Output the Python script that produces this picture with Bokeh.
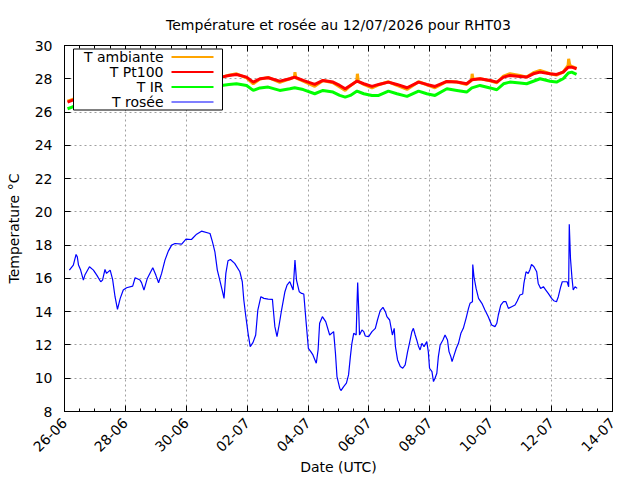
import numpy as np
import pandas as pd
from bokeh.plotting import figure
from bokeh.models import (FixedTicker, DatetimeTickFormatter, Range1d, Label,
                          BoxAnnotation, DatetimeAxis, LinearAxis, Title, CustomLabelingPolicy)
from bokeh.embed import file_html
from bokeh.resources import INLINE

# ---------------- data ----------------
start_date = "2026-06-26 00:00"
end_date = "2026-07-14 00:00"
title_text = "Température et rosée au 12/07/2026 pour RHT03"
series_names = ["T ambiante", "T Pt100", "T IR", "T rosée"]
series_colors = ["#ffa500", "#ff0000", "#00ff00", "#0000ff"]
y_ticks = [8, 10, 12, 14, 16, 18, 20, 22, 24, 26, 28, 30]
x_tick_days = [0, 2, 4, 6, 8, 10, 12, 14, 16, 18]   # labels 26-06 ... 14-07

# days since 26-06 00:00 UTC
pt100_days = [0.10, 0.25, 0.60, 1.20, 1.80, 2.50, 3.20, 4.00, 4.60, 5.16, 5.40, 5.65, 5.98, 6.20,
              6.42, 6.69, 7.07, 7.40, 7.56, 7.84, 8.22, 8.49, 8.82, 9.04, 9.22, 9.39, 9.61, 9.83,
              10.10, 10.32, 10.64, 10.92, 11.25, 11.63, 11.90, 12.17, 12.56, 12.89, 13.21, 13.38,
              13.65, 13.98, 14.20, 14.42, 14.63, 14.96, 15.18, 15.40, 15.62, 15.95, 16.16, 16.38,
              16.55, 16.66, 16.82]
pt100_vals = [26.60, 26.70, 26.90, 27.10, 27.30, 27.60, 27.80, 28.00, 28.10, 28.10, 28.20, 28.26,
              28.10, 27.80, 28.00, 28.06, 27.86, 28.00, 28.10, 27.90, 27.66, 27.90, 27.80, 27.60,
              27.40, 27.60, 27.86, 27.70, 27.54, 27.66, 27.80, 27.66, 27.46, 27.80, 27.66, 27.54,
              27.84, 27.80, 27.70, 27.94, 28.00, 27.90, 27.80, 28.10, 28.20, 28.14, 28.10, 28.30,
              28.40, 28.30, 28.26, 28.40, 28.70, 28.70, 28.60]
ir_vals = [26.20, 26.30, 26.50, 26.70, 26.90, 27.10, 27.30, 27.50, 27.55, 27.60, 27.65, 27.70,
           27.60, 27.30, 27.45, 27.50, 27.30, 27.40, 27.46, 27.35, 27.10, 27.30, 27.20, 27.00,
           26.90, 27.00, 27.26, 27.10, 27.00, 27.00, 27.26, 27.10, 26.94, 27.26, 27.10, 27.00,
           27.40, 27.30, 27.20, 27.45, 27.60, 27.45, 27.34, 27.70, 27.80, 27.75, 27.70, 27.85,
           28.00, 27.85, 27.80, 28.00, 28.35, 28.40, 28.26]
amb_days = [0.10, 0.25, 0.60, 1.20, 1.80, 2.50, 3.20, 4.00, 4.60, 5.16, 5.40, 5.65, 5.98, 6.20,
            6.42, 6.69, 7.07, 7.40, 7.55, 7.57, 7.60, 7.84, 8.22, 8.49, 8.82, 9.04, 9.22, 9.39,
            9.60, 9.62, 9.65, 9.83, 10.10, 10.32, 10.64, 10.92, 11.25, 11.63, 11.90, 12.17, 12.56,
            12.89, 13.21, 13.37, 13.39, 13.42, 13.65, 13.98, 14.20, 14.42, 14.63, 14.96, 15.18,
            15.40, 15.62, 15.95, 16.16, 16.38, 16.54, 16.56, 16.60, 16.66, 16.82]
amb_vals = [26.65, 26.75, 26.90, 27.10, 27.25, 27.55, 27.80, 28.00, 28.10, 28.10, 28.22, 28.30,
            28.05, 27.70, 27.98, 28.08, 27.78, 28.00, 28.10, 28.40, 28.05, 27.86, 27.55, 27.90,
            27.76, 27.50, 27.30, 27.58, 27.86, 28.30, 27.85, 27.66, 27.46, 27.64, 27.82, 27.60,
            27.36, 27.82, 27.64, 27.46, 27.84, 27.80, 27.66, 27.90, 28.30, 27.96, 28.00, 27.88,
            27.76, 28.16, 28.30, 28.20, 28.10, 28.36, 28.50, 28.30, 28.22, 28.40, 28.80, 29.20,
            28.80, 28.75, 28.62]
dew_days = [0.16, 0.29, 0.38, 0.42, 0.46, 0.53, 0.62, 0.67, 0.82, 0.95, 1.06, 1.19, 1.25, 1.33,
            1.38, 1.50, 1.58, 1.66, 1.74, 1.83, 1.93, 2.04, 2.24, 2.32, 2.48, 2.53, 2.61, 2.72,
            2.90, 3.00, 3.09, 3.19, 3.30, 3.41, 3.52, 3.63, 3.85, 3.99, 4.17, 4.34, 4.50, 4.78,
            4.86, 4.94, 5.02, 5.10, 5.19, 5.24, 5.30, 5.37, 5.45, 5.59, 5.76, 5.84, 5.89, 5.95,
            6.03, 6.10, 6.19, 6.28, 6.35, 6.45, 6.55, 6.69, 6.83, 6.85, 6.91, 6.98, 7.05, 7.13,
            7.24, 7.31, 7.40, 7.51, 7.57, 7.62, 7.71, 7.79, 7.86, 7.93, 8.01, 8.09, 8.16, 8.27,
            8.33, 8.38, 8.47, 8.58, 8.71, 8.84, 8.90, 8.95, 9.04, 9.08, 9.17, 9.26, 9.33, 9.39,
            9.44, 9.50, 9.58, 9.61, 9.63, 9.66, 9.69, 9.77, 9.83, 9.88, 9.99, 10.10, 10.21, 10.28,
            10.37, 10.46, 10.54, 10.59, 10.68, 10.72, 10.77, 10.83, 10.87, 10.94, 11.03, 11.11,
            11.19, 11.27, 11.33, 11.41, 11.46, 11.52, 11.57, 11.63, 11.68, 11.74, 11.81, 11.90,
            11.95, 11.99, 12.07, 12.12, 12.17, 12.23, 12.28, 12.34, 12.43, 12.50, 12.58, 12.63,
            12.69, 12.73, 12.80, 12.87, 12.94, 13.02, 13.10, 13.19, 13.27, 13.32, 13.40, 13.41,
            13.45, 13.52, 13.60, 13.71, 13.81, 13.92, 14.03, 14.14, 14.20, 14.25, 14.33, 14.42,
            14.50, 14.58, 14.69, 14.80, 14.87, 14.96, 15.05, 15.09, 15.16, 15.23, 15.29, 15.34,
            15.42, 15.51, 15.56, 15.64, 15.73, 15.81, 15.89, 16.00, 16.07, 16.16, 16.22, 16.30,
            16.35, 16.44, 16.51, 16.56, 16.58, 16.62, 16.67, 16.71, 16.77, 16.84]
dew_vals = [16.5, 16.8, 17.44, 17.3, 16.8, 16.5, 15.9, 16.2, 16.7, 16.5, 16.2, 15.8, 15.9, 16.54,
            16.3, 16.5, 15.94, 14.9, 14.14, 14.8, 15.3, 15.44, 15.54, 16.04, 15.9, 15.75, 15.3, 16.0,
            16.64, 16.2, 15.74, 16.3, 17.1, 17.64, 18.0, 18.1, 18.06, 18.36, 18.34, 18.66, 18.84, 18.7,
            18.2, 17.6, 16.5, 15.9, 15.2, 14.8, 16.3, 17.06, 17.14, 16.9, 16.4, 15.8, 14.7, 13.8,
            12.7, 11.9, 12.14, 12.6, 14.1, 14.9, 14.8, 14.76, 14.74, 14.3, 13.1, 12.5, 13.2, 14.1,
            15.2, 15.6, 15.8, 15.3, 17.1, 15.9, 15.2, 15.1, 15.06, 13.5, 11.8, 11.6, 11.4, 10.9,
            11.7, 13.3, 13.7, 13.4, 12.6, 12.8, 11.5, 10.1, 9.4, 9.26, 9.5, 9.7, 10.2, 11.3,
            12.1, 12.7, 12.6, 14.6, 15.76, 14.3, 12.6, 12.9, 12.8, 12.54, 12.5, 12.8, 13.0, 13.5,
            14.06, 14.26, 14.0, 13.7, 13.5, 13.1, 12.6, 13.0, 11.9, 11.1, 10.7, 10.6,
            10.8, 11.6, 12.1, 12.8, 13.0, 12.6, 12.3, 11.9, 11.7, 12.1, 11.9, 12.2,
            11.6, 10.6, 10.4, 9.8, 10.0, 10.3, 11.3, 12.0, 12.3, 12.6, 12.3, 11.6,
            11.3, 11.0, 11.4, 11.8, 12.1, 12.7, 13.0, 13.6, 14.2, 14.5, 14.6, 16.84,
            16.1, 15.4, 14.8, 14.5, 14.1, 13.7, 13.2, 13.1, 13.3, 13.8, 14.4, 14.6,
            14.6, 14.2, 14.3, 14.4, 14.64, 15.0, 15.06, 15.7, 16.4, 16.3, 16.54, 16.84,
            16.7, 16.4, 15.7, 15.4, 15.5, 15.3, 15.1, 14.8, 14.66, 14.6, 14.9, 15.5,
            15.8, 15.8, 15.8, 15.5, 19.26, 17.2, 16.0, 15.3, 15.5, 15.4]

# ---------------- helpers ----------------
t0 = pd.Timestamp(start_date)
t1 = pd.Timestamp(end_date)


def to_dt(days):
    return (t0 + pd.to_timedelta(np.asarray(days, dtype=float), unit="D")).to_numpy()


def to_ms(days):
    return [(t0 + pd.Timedelta(days=float(d))).timestamp() * 1000.0 for d in days]


FONT = "DejaVu Sans"
GRID = "#a0a0a0"

x_ticker = FixedTicker(ticks=to_ms(x_tick_days),
                       minor_ticks=to_ms(np.arange(0, 18.01, 0.5)))
y_ticker = FixedTicker(ticks=y_ticks, minor_ticks=[])
fmt = "%d-%m"
x_fmt = DatetimeTickFormatter(microseconds=fmt, milliseconds=fmt, seconds=fmt, minsec=fmt,
                              minutes=fmt, hourmin=fmt, hours=fmt, days=fmt, months=fmt,
                              years=fmt, strip_leading_zeros=False)
no_labels = CustomLabelingPolicy(code="for (const i of indices) { indices.unset(i) }\nreturn indices")

p = figure(x_axis_type="datetime", output_backend="svg", toolbar_location=None,
           x_range=Range1d(t0, t1), y_range=Range1d(8, 30),
           frame_width=548, frame_height=366,
           min_border_left=64, min_border_right=12, min_border_top=45, min_border_bottom=60,
           background_fill_color="white", border_fill_color="white")

p.outline_line_color = "black"
p.outline_line_width = 1
p.outline_line_alpha = 1

# main axes (take references before adding mirrored ones)
xa = p.below[0]
ya = p.left[0]
xa.ticker = x_ticker
xa.formatter = x_fmt
ya.ticker = y_ticker
for ax in (xa, ya):
    ax.axis_line_color = "black"
    ax.major_tick_line_color = "black"
    ax.minor_tick_line_color = "black"
    ax.major_tick_in = 6
    ax.major_tick_out = 0
    ax.minor_tick_in = 3
    ax.minor_tick_out = 0
    ax.major_label_text_font = FONT
    ax.major_label_text_font_size = "14px"
    ax.major_label_text_color = "black"
    ax.axis_label_text_font = FONT
    ax.axis_label_text_font_size = "14px"
    ax.axis_label_text_font_style = "normal"
    ax.axis_label_text_color = "black"
xa.axis_label = "Date (UTC)"
xa.major_label_orientation = np.pi / 4
xa.major_label_standoff = 9
xa.axis_label_standoff = 0
ya.axis_label = "Temperature °C"
ya.major_label_standoff = 12
ya.axis_label_standoff = 10

# mirrored ticks on top and right (no labels) -- added first so they hug the frame
top = DatetimeAxis(ticker=x_ticker, formatter=x_fmt, major_label_policy=no_labels,
                   major_label_text_font_size="1px",
                   major_label_standoff=0, major_tick_in=6, major_tick_out=0,
                   minor_tick_in=3, minor_tick_out=0, axis_line_color="black")
right = LinearAxis(ticker=y_ticker, major_label_policy=no_labels,
                   major_label_text_font_size="1px", major_label_standoff=0,
                   major_tick_in=6, major_tick_out=0, minor_tick_in=0, minor_tick_out=0,
                   axis_line_color="black")
p.add_layout(top, "above")
p.add_layout(right, "right")

p.add_layout(Title(text=title_text, align="center", text_font=FONT, text_font_size="14px",
                   text_font_style="normal", text_color="black", standoff=18), "above")

# grid
for g in (p.xgrid[0], p.ygrid[0]):
    g.grid_line_color = GRID
    g.grid_line_dash = "2 3"
    g.grid_line_width = 1

# series
p.line(to_dt(amb_days), amb_vals, line_color=series_colors[0], line_width=3)
p.line(to_dt(pt100_days), pt100_vals, line_color=series_colors[1], line_width=3)
p.line(to_dt(pt100_days), ir_vals, line_color=series_colors[2], line_width=3)
p.line(to_dt(dew_days), dew_vals, line_color=series_colors[3], line_width=1.2)

# legend box (label left, sample right, as in the reference)
p.add_layout(BoxAnnotation(left=9, right=158, bottom=301.5, top=362.5,
                           left_units="screen", right_units="screen",
                           bottom_units="screen", top_units="screen",
                           fill_color="white", fill_alpha=1, line_color="black",
                           line_width=1, line_alpha=1))
row_y = [354.5, 339.5, 324.5, 309.5]
sample_w = [2, 2, 2, 1]
for name, col, yy, w in zip(series_names, series_colors, row_y, sample_w):
    p.add_layout(Label(x=99, y=yy, x_units="screen", y_units="screen", text=name,
                       text_align="right", text_baseline="middle", text_font=FONT,
                       text_font_size="14px", text_color="black"))
    p.add_layout(BoxAnnotation(left=107, right=149, bottom=yy - w / 2, top=yy + w / 2,
                               left_units="screen", right_units="screen",
                               bottom_units="screen", top_units="screen",
                               fill_color=col, fill_alpha=1, line_color=None))

open("out.html", "w").write(file_html(p, INLINE))
